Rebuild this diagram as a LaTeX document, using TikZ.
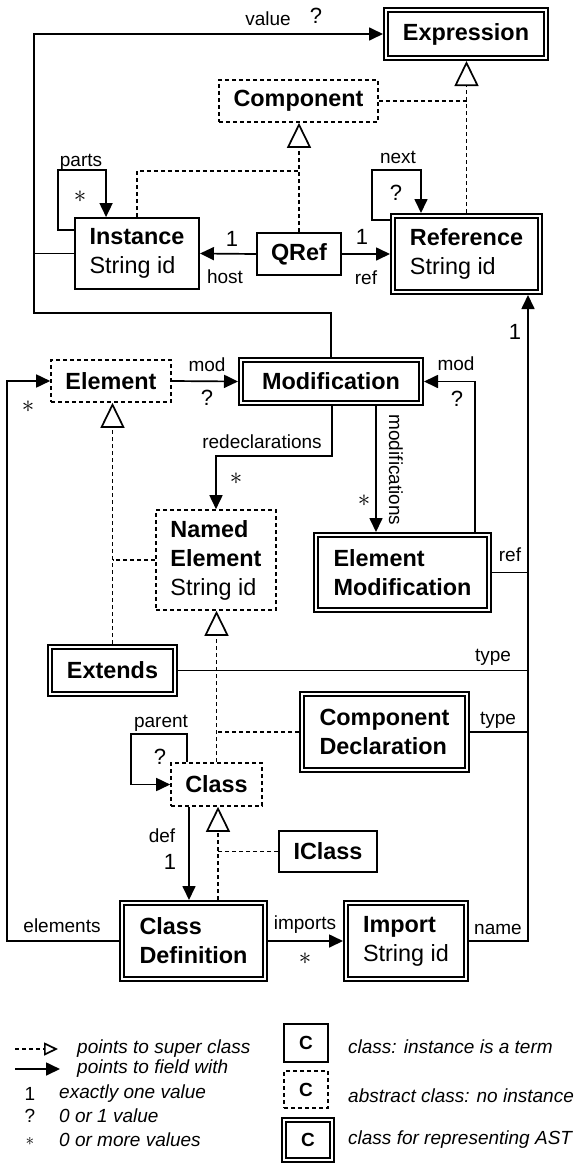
\documentclass[tikz,border=0pt]{standalone}
\usepackage{fontspec}
\setmainfont{Liberation Sans}
\usetikzlibrary{arrows.meta}

\newcommand{\boxfont}{\fontsize{23.4}{29}\selectfont}
\newcommand{\labfont}{\fontsize{19}{22}\selectfont}
\newcommand{\mulfont}{\fontsize{22}{24}\selectfont}
\newcommand{\many}{{\fontsize{27}{27}\selectfont$\ast$}}

\begin{document}
\begin{tikzpicture}[x=1pt,y=-1pt,
  cls/.style={draw,line width=1.9pt,align=left,inner sep=0pt,font=\boxfont},
  abstr/.style={cls,line width=1.6pt,dash pattern=on 4pt off 3pt},
  ast/.style={cls,double,line width=1.9pt,double distance=2.3pt,outer sep=3pt},
  link/.style={line width=1.7pt},
  field/.style={link,-{Triangle[length=14pt,width=13pt]}},
  sub/.style={link,dash pattern=on 4pt off 3pt},
  super/.style={sub,-{Triangle[open,length=25pt,width=24pt]}},
  lab/.style={font=\labfont,inner sep=0pt},
  mul/.style={font=\mulfont,inner sep=0pt},
  leg/.style={font=\labfont\itshape,inner sep=0pt,anchor=west}]
  \useasboundingbox (0,0) rectangle (582,1164);

  % classes
  \node[ast,minimum width=160pt,minimum height=48pt] (Expression) at (466,34) {\textbf{Expression}};
  \node[abstr,minimum width=159pt,minimum height=42pt] (Component) at (298.5,101) {\textbf{Component}};
  \node[cls,minimum width=124pt,minimum height=71pt] (Instance) at (137,253.5) {\textbf{Instance}\\String id};
  \node[cls,minimum width=84pt,minimum height=42pt] (QRef) at (299,254) {\textbf{QRef}};
  \node[ast,minimum width=147pt,minimum height=76pt] (Reference) at (466.5,254) {\textbf{Reference}\\String id};
  \node[abstr,minimum width=120pt,minimum height=42pt] (Element) at (111,381) {\textbf{Element}};
  \node[ast,minimum width=180pt,minimum height=43pt] (Modification) at (331,381.5) {\textbf{Modification}};
  \node[abstr,minimum width=120pt,minimum height=100pt] (NamedElement) at (216,560) {\textbf{Named}\\\textbf{Element}\\String id};
  \node[ast,minimum width=173pt,minimum height=75pt] (ElemMod) at (402.5,572.5) {\textbf{Element}\\\textbf{Modification}};
  \node[ast,minimum width=125pt,minimum height=47pt] (Extends) at (112.5,670.5) {\textbf{Extends}};
  \node[ast,minimum width=165pt,minimum height=76pt] (CompDecl) at (384.5,732) {\textbf{Component}\\\textbf{Declaration}};
  \node[abstr,minimum width=91pt,minimum height=43pt] (Class) at (216.5,784.5) {\textbf{Class}};
  \node[cls,minimum width=98pt,minimum height=41pt] (IClass) at (328,851.5) {\textbf{IClass}};
  \node[ast,minimum width=143pt,minimum height=76pt] (ClassDef) at (193.5,941) {\textbf{Class}\\\textbf{Definition}};
  \node[ast,minimum width=120pt,minimum height=76pt] (Import) at (406,941) {\textbf{Import}\\String id};

  % bends
  \coordinate (bus) at ([xshift=61.5pt]Reference.south);
  \coordinate (valL) at (34,313);
  \coordinate (elemL) at (7,381);
  \coordinate (redecl) at (216,456);
  \coordinate (compJ) at (299,171);
  \coordinate (partsC) at (58,170);
  \coordinate (nextC) at (372,170);
  \coordinate (parentC) at (131,734);
  \coordinate (cdTop) at ([xshift=24.5pt]ClassDef.north);
  \coordinate (defTop) at ([xshift=-4.5pt]ClassDef.north);
  \coordinate (modsTop) at ([xshift=45pt]Modification.south);
  \coordinate (parTop) at ([xshift=-29.5pt]Class.north);

  % super classes
  \draw[super] (Reference.north) -- (Reference.north |- Expression.south);
  \draw[sub] (Component.east) -- (Component.east -| Reference.north);
  \draw[super] (QRef.north) -- (QRef.north |- Component.south);
  \draw[sub] (Instance.north) |- (compJ);
  \draw[super] (Extends.north) -- (Extends.north |- Element.south);
  \draw[sub] (NamedElement.west) -- (NamedElement.west -| Extends.north);
  \draw[super] (Class.north) -- (Class.north |- NamedElement.south);
  \draw[sub] (CompDecl.west) -- (CompDecl.west -| Class.north);
  \draw[super] (cdTop) -- (cdTop |- Class.south);
  \draw[sub] (IClass.west) -- (IClass.west -| cdTop);

  % fields
  \draw[field] (Modification.north) |- (valL) |- (Expression.west);
  \draw[link] (Instance.west) -- (Instance.west -| valL);
  \draw[field] ([yshift=-13pt]Instance.north west) -| (partsC) -| ([xshift=32pt]Instance.north west);
  \draw[field] ([yshift=-7pt]Reference.north west) -| (nextC) -| ([xshift=31pt]Reference.north west);
  \draw[field] (QRef.west) -- (Instance.east);
  \draw[field] (QRef.east) -- (Reference.west);
  \draw[field] (Element.east) -- (Modification.west);
  \draw[field] ([xshift=1pt]Modification.south) |- (redecl) -- (NamedElement.north);
  \draw[field] (modsTop) -- (modsTop |- ElemMod.north);
  \draw[field] ([xshift=72.5pt]ElemMod.north) |- (Modification.east);
  \draw[field] (ElemMod.east) -| (bus);
  \draw[link] (Extends.east) -- (Extends.east -| bus);
  \draw[link] (CompDecl.east) -- (CompDecl.east -| bus);
  \draw[link] (Import.east) -| (bus |- ElemMod.east);
  \draw[field] (ClassDef.west) -| (elemL) -- (Element.west);
  \draw[field] (ClassDef.east) -- (Import.west);
  \draw[field] (defTop |- Class.south) -- (defTop);
  \draw[field] (parTop) |- (parentC) |- (Class.west);

  % field labels
  \node[lab] (lValue) at (268,19) {value};
  \node[mul] (mValue) at (316,16) {?};
  \node[lab] (lParts) at (81,162) {parts};
  \node[lab] (mParts) at (80,197) {\many};
  \node[lab] (lNext) at (398,157) {next};
  \node[mul] (mNext) at (396,193) {?};
  \node[mul] (mHost) at (232,239) {1};
  \node[lab] (lHost) at (225,277) {host};
  \node[mul] (mRef) at (362,237) {1};
  \node[lab] (lRef) at (366,278) {ref};
  \node[lab] (lMod) at (207,365) {mod};
  \node[mul] (mMod) at (207,398) {?};
  \node[lab] (mElems) at (28,407) {\many};
  \node[lab] (lRedecl) at (262,442) {redeclarations};
  \node[lab] (mRedecl) at (236,479) {\many};
  \node[lab,rotate=-90] (lMods) at (396,470) {modifications};
  \node[lab] (mMods) at (364,501) {\many};
  \node[lab] (lModB) at (456,364) {mod};
  \node[mul] (mModB) at (457,399) {?};
  \node[mul] (mRefB) at (515,332) {1};
  \node[lab] (lRefB) at (510,555) {ref};
  \node[lab] (lType) at (493,657) {type};
  \node[lab] (lTypeB) at (498,720) {type};
  \node[lab] (lParent) at (161,723) {parent};
  \node[mul] (mParent) at (160,757) {?};
  \node[lab] (lDef) at (162,836) {def};
  \node[mul] (mDef) at (170,862) {1};
  \node[lab] (lElems) at (62,926) {elements};
  \node[lab] (lImports) at (305,925) {imports};
  \node[lab] (mImports) at (305,959) {\many};
  \node[lab] (lName) at (498,929) {name};

  % legend
  \coordinate (lgA) at (15,1049); \coordinate (lgB) at (58,1049);
  \coordinate (lgC) at (15,1069); \coordinate (lgD) at (60,1069);
  \draw[sub,-{Triangle[open,length=14pt,width=13pt]}] (lgA) -- (lgB);
  \draw[field] (lgC) -- (lgD);
  \node[leg] (tSuper) at (77,1049) {points to super class};
  \node[leg] (tField) at (77,1069) {points to field with};
  \node[lab] (kOne) at (30,1094) {1};
  \node[leg] (tOne) at (59,1094) {exactly one value};
  \node[lab] (kOpt) at (30,1116) {?};
  \node[lab] (kMany) at (30,1141) {$\ast$};
  \node[leg] (tOpt) at (59,1116) {0 or 1 value};
  \node[leg] (tMany) at (59,1140) {0 or more values};
  \node[cls,font=\labfont\bfseries,minimum width=44pt,minimum height=38pt] (kCls) at (306,1043) {C};
  \node[abstr,font=\labfont\bfseries,minimum width=44pt,minimum height=37pt] (kAbs) at (306,1089.5) {C};
  \node[ast,font=\labfont\bfseries,minimum width=48pt,minimum height=40pt] (kAst) at (308,1140) {C};
  \node[leg] (tCls) at (348,1047) {class: instance is a term};
  \node[leg] (tAbs) at (348,1096) {abstract class: no instance};
  \node[leg] (tAst) at (348,1140) {class for representing AST};
\end{tikzpicture}
\end{document}
